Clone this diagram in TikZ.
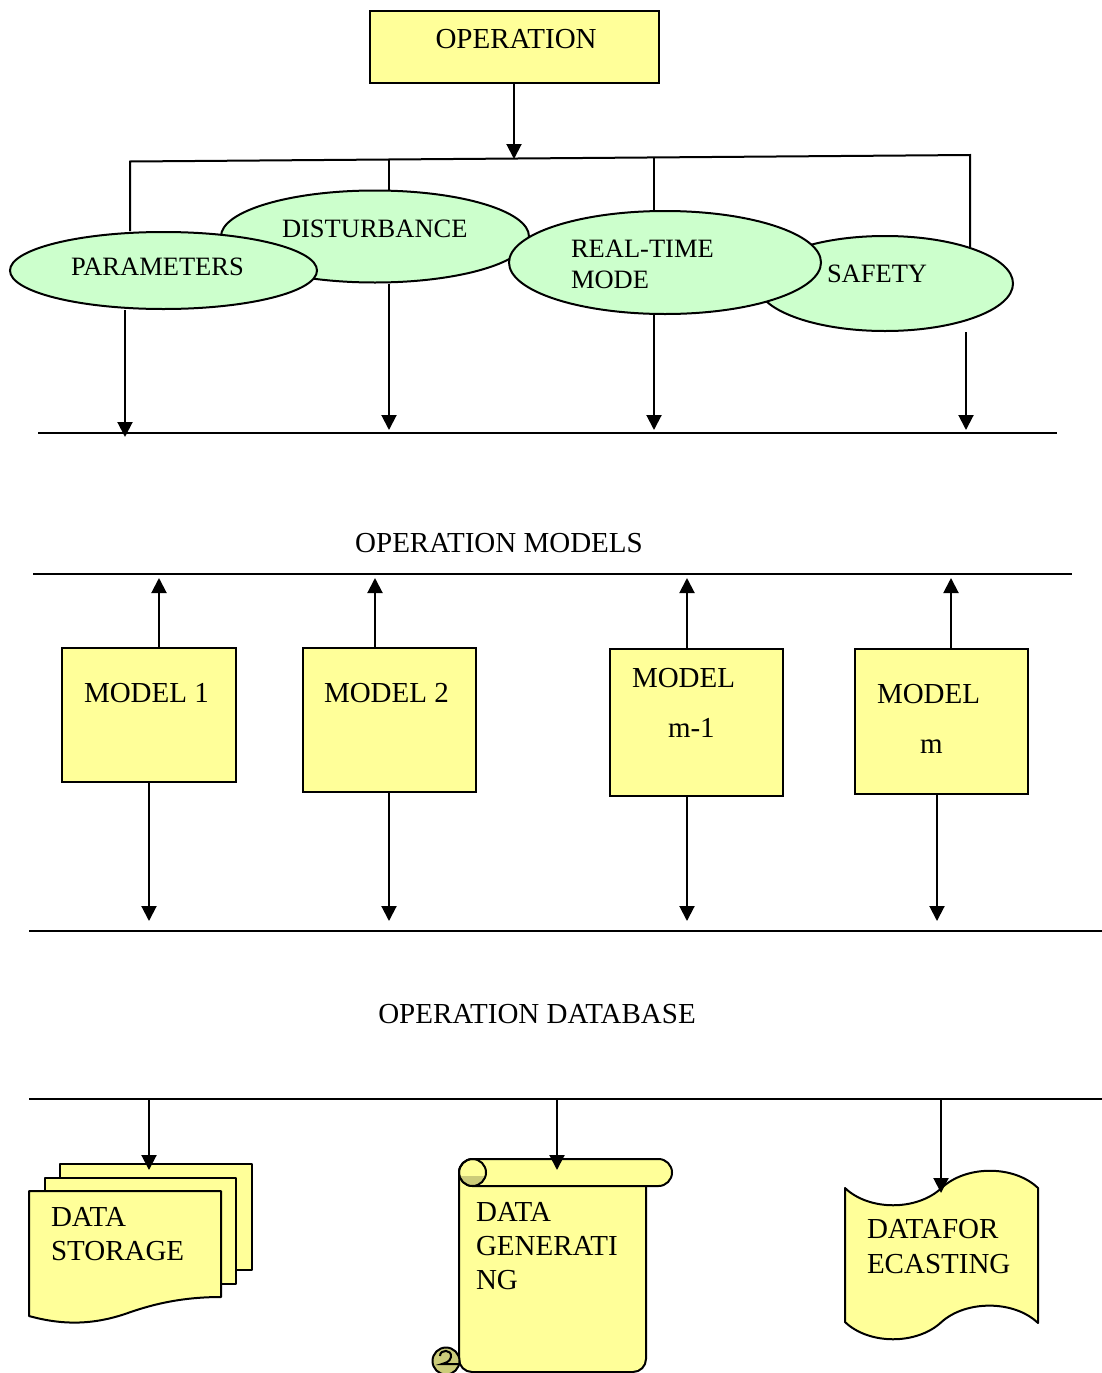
\documentclass[tikz,border=0pt]{standalone}
\usepackage{fontspec}
\setmainfont{Liberation Serif}
\usepackage{tikz}
\usetikzlibrary{arrows.meta,shapes.geometric,positioning}
\definecolor{boxyellow}{HTML}{FFFF99}
\definecolor{ovalgreen}{HTML}{CCFFCC}
\definecolor{curlolive}{HTML}{CCCC7A}

\begin{document}
\begin{tikzpicture}[x=1pt, y=-1pt, line width=2pt, >={Triangle[length=15pt,width=15pt]}]
\tikzstyle{box}=[draw, fill=boxyellow, inner sep=0]
\tikzstyle{oval}=[draw, fill=ovalgreen, ellipse, inner sep=0]
\tikzstyle{big}=[font=\fontsize{29}{34}\selectfont, anchor=base west, inner sep=0]
\tikzstyle{small}=[font=\fontsize{26.5}{31}\selectfont, anchor=base west, inner sep=0]
\tikzstyle{paper}=[draw, fill=boxyellow, line join=round]
\tikzstyle{curl}=[draw, fill=curlolive]
\useasboundingbox (0,0) rectangle (1102,1373);

% operation and its four inputs
\node[box, minimum width=289pt, minimum height=72pt] (op) at (514,46.5) {};
\node[big] (optxt) at (434.5,48) {OPERATION};

\node[oval, minimum width=308pt, minimum height=92pt]  (dis) at (375,236.5) {};
\node[oval, minimum width=307pt, minimum height=77pt]  (par) at (163.5,270.5) {};
\node[oval, minimum width=256pt, minimum height=95pt]  (saf) at (885,283.5) {};
\node[oval, minimum width=312pt, minimum height=103pt] (rtm) at (665,262.5) {};
\node[small] (partxt) at (70,275) {PARAMETERS};
\node[small] (distxt) at (281,237) {DISTURBANCE};
\node[small] (rtmtxt) at (570,257) {REAL-TIME};
\node[small] (modtxt) at (570,288) {MODE};
\node[small] (saftxt) at (826,282) {SAFETY};

\coordinate (busl) at (130,161.5);
\coordinate (busr) at (970,155);
\coordinate (busm) at (514,159);
\coordinate (bd) at (389,160);
\coordinate (br) at (654,157.5);
\draw[->] (op.south) -- (busm);
\draw (par.north -| busl) -- (busl) -- (busr) -- (saf.22 -| busr);
\draw (bd) -- (dis.north -| bd);
\draw (br) -- (rtm.north -| br);

% operation models
\coordinate (l1a) at (38,433);
\coordinate (l1b) at (1057,433);
\draw (l1a) -- (l1b);
\coordinate (a1) at (125,437);
\coordinate (a2) at (389,430);
\coordinate (a3) at (654,430);
\coordinate (a4) at (966,430);
\draw[->] (par.south -| a1) -- (a1);
\draw[->] (dis.south -| a2) -- (a2);
\draw[->] (rtm.south -| a3) -- (a3);
\draw[->] (saf.south -| a4) -- (a4);

\node[big, anchor=base] (omtxt) at (499,552) {OPERATION MODELS};
\coordinate (l2a) at (33,574);
\coordinate (l2b) at (1072,574);
\draw (l2a) -- (l2b);

\node[box, minimum width=174pt, minimum height=134pt] (m1) at (149,715) {};
\node[box, minimum width=173pt, minimum height=144pt] (m2) at (389.5,720) {};
\node[box, minimum width=173pt, minimum height=147pt] (m3) at (696.5,722.5) {};
\node[box, minimum width=173pt, minimum height=145pt] (m4) at (941.5,721.5) {};
\node[big] (m1txt) at (83,702) {MODEL 1};
\node[big] (m2txt) at (323,702) {MODEL 2};
\node[big] (m3txt) at (631,687) {MODEL};
\node[big] (m3sub) at (667,737) {m-1};
\node[big] (m4txt) at (876,703) {MODEL};
\node[big] (m4sub) at (919,753) {m};

\coordinate (u1) at (159,578);
\coordinate (u2) at (375,578);
\coordinate (u3) at (687,578);
\coordinate (u4) at (951,578);
\draw[->] (m1.north -| u1) -- (u1);
\draw[->] (m2.north -| u2) -- (u2);
\draw[->] (m3.north -| u3) -- (u3);
\draw[->] (m4.north -| u4) -- (u4);

\coordinate (d1) at (149,921);
\coordinate (d2) at (389,921);
\coordinate (d3) at (687,921);
\coordinate (d4) at (937,921);
\draw[->] (m1.south -| d1) -- (d1);
\draw[->] (m2.south -| d2) -- (d2);
\draw[->] (m3.south -| d3) -- (d3);
\draw[->] (m4.south -| d4) -- (d4);

% operation database
\coordinate (l3a) at (29,931);
\coordinate (l3b) at (1102,931);
\draw (l3a) -- (l3b);
\node[big, anchor=base] (odtxt) at (537,1023) {OPERATION DATABASE};
\coordinate (l4a) at (29,1099);
\coordinate (l4b) at (1102,1099);
\draw (l4a) -- (l4b);

% data storage
\draw[paper] (60,1164) rectangle (252,1270);
\draw[paper] (45,1178) rectangle (236,1284);
\draw[paper] (29,1191) -- (221,1191) -- (221,1297)
  .. controls (180,1297) and (150,1305) .. (125,1314)
  .. controls (95,1324) and (65,1326) .. (29,1316) -- cycle;
\node[big] (ds1) at (50,1226) {DATA};
\node[big] (ds2) at (50,1260) {STORAGE};

% data generating
\draw[paper, rounded corners=13pt] (459,1160) rectangle (646,1372);
\draw[paper, rounded corners=13.5pt] (459,1159) rectangle (672,1186);
\begin{scope}
  \clip (440,1176) rectangle (500,1200);
  \fill[curlolive] (472.5,1172.5) circle[radius=13.5];
\end{scope}
\draw (472.5,1172.5) circle[radius=13.5];
\draw[curl] (446,1361) circle[radius=13.5];
\draw (440,1356) .. controls (440,1349) and (452,1349) .. (451,1357)
  .. controls (450,1362) and (445,1363) .. (442,1364) -- (459,1364);
\node[big] (dg1) at (475,1221) {DATA};
\node[big] (dg2) at (475,1255) {GENERATI};
\node[big] (dg3) at (475,1289) {NG};

% data forecasting
\draw[paper] (845,1188) .. controls (869,1211) and (917,1211) .. (941.5,1188)
  .. controls (966,1165) and (1014,1165) .. (1038,1188) -- (1038,1323)
  .. controls (1014,1300) and (966,1300) .. (941.5,1322)
  .. controls (917,1345) and (869,1345) .. (845,1322) -- cycle;
\node[big] (df1) at (866,1238) {DATAFOR};
\node[big] (df2) at (866,1273) {ECASTING};

\coordinate (s1) at (149,1099);
\coordinate (e1) at (149,1170);
\coordinate (s2) at (557,1099);
\coordinate (e2) at (557,1170);
\coordinate (s3) at (941,1099);
\coordinate (e3) at (941,1193);
\draw[->] (s1) -- (e1);
\draw[->] (s2) -- (e2);
\draw[->] (s3) -- (e3);
\end{tikzpicture}
\end{document}
